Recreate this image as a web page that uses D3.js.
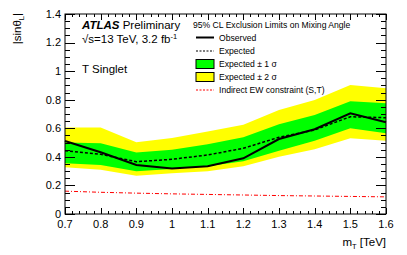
<!DOCTYPE html>
<html><head><meta charset="utf-8">
<script src="https://cdn.jsdelivr.net/npm/d3@7"></script>
<style>
html,body{margin:0;padding:0;background:#fff;}
svg{display:block;font-family:"Liberation Sans",Arial,sans-serif;}
</style></head>
<body>
<svg id="c" width="407" height="255"></svg>
<script>
const mass = [0.7, 0.8, 0.9, 1.0, 1.1, 1.2, 1.3, 1.4, 1.5, 1.6];
const observed = [0.511, 0.432, 0.343, 0.318, 0.335, 0.39, 0.525, 0.593, 0.705, 0.642];
const expected = [0.443, 0.418, 0.366, 0.383, 0.413, 0.46, 0.537, 0.588, 0.681, 0.674];
const sig1Up = [0.50, 0.495, 0.43, 0.45, 0.488, 0.538, 0.628, 0.693, 0.79, 0.775];
const sig1Dn = [0.355, 0.343, 0.30, 0.315, 0.335, 0.37, 0.443, 0.513, 0.60, 0.565];
const sig2Up = [0.605, 0.605, 0.503, 0.532, 0.578, 0.625, 0.728, 0.798, 0.903, 0.88];
const sig2Dn = [0.327, 0.31, 0.268, 0.285, 0.30, 0.335, 0.40, 0.453, 0.53, 0.513];
const ewConstraint = [0.160, 0.152, 0.146, 0.141, 0.137, 0.133, 0.129, 0.126, 0.123, 0.120];
const xTicks = [0.7, 0.8, 0.9, 1.0, 1.1, 1.2, 1.3, 1.4, 1.5, 1.6];
const xTickLabels = ["0.7","0.8","0.9","1","1.1","1.2","1.3","1.4","1.5","1.6"];
const yTicks = [0, 0.2, 0.4, 0.6, 0.8, 1.0, 1.2, 1.4];
const yTickLabels = ["0","0.2","0.4","0.6","0.8","1","1.2","1.4"];
const legendLabels = ["Observed","Expected","Expected \u00b1 1 \u03c3","Expected \u00b1 2 \u03c3","Indirect EW constraint (S,T)"];

const L = 65, R = 386, T = 14, B = 214;
const svg = d3.select("#c");
const x = d3.scaleLinear().domain([0.7, 1.6]).range([L, R]);
const y = d3.scaleLinear().domain([0, 1.4]).range([B, T]);

const idx = d3.range(mass.length);
const band = (up, dn) => d3.area().x(i => x(mass[i])).y0(i => y(dn[i])).y1(i => y(up[i]))(idx);
const line = (v) => d3.line().x(i => x(mass[i])).y(i => y(v[i]))(idx);

svg.append("path").attr("d", band(sig2Up, sig2Dn)).attr("fill", "#ffff00");
svg.append("path").attr("d", band(sig1Up, sig1Dn)).attr("fill", "#00ff00");
svg.append("path").attr("d", line(ewConstraint)).attr("fill", "none").attr("stroke", "#ff0000").attr("stroke-width", 1).attr("stroke-dasharray", "4,2,1,2");
svg.append("path").attr("d", line(expected)).attr("fill", "none").attr("stroke", "#000").attr("stroke-width", 1.5).attr("stroke-dasharray", "3,2");
svg.append("path").attr("d", line(observed)).attr("fill", "none").attr("stroke", "#000").attr("stroke-width", 2);

// frame
svg.append("rect").attr("x", L).attr("y", T).attr("width", R - L).attr("height", B - T).attr("fill", "none").attr("stroke", "#000").attr("stroke-width", 1);

// ticks (ROOT style, inside, on all sides)
const xMinor = d3.range(0.7, 1.6001, 0.02);
const yMinor = d3.range(0, 1.4001, 0.05);
const tk = svg.append("g").attr("stroke", "#000").attr("stroke-width", 1);
xMinor.forEach(v => {
  const major = Math.abs(Math.round(v * 10) - v * 10) < 1e-6;
  const len = major ? 6 : 3;
  const px = Math.round(x(v)) + 0.5;
  tk.append("line").attr("x1", px).attr("x2", px).attr("y1", B).attr("y2", B - len);
  tk.append("line").attr("x1", px).attr("x2", px).attr("y1", T).attr("y2", T + len);
});
yMinor.forEach(v => {
  const major = Math.abs(Math.round(v * 5) - v * 5) < 1e-6;
  const len = major ? 10 : 5;
  const py = Math.round(y(v)) + 0.5;
  tk.append("line").attr("x1", L).attr("x2", L + len).attr("y1", py).attr("y2", py);
  tk.append("line").attr("x1", R).attr("x2", R - len).attr("y1", py).attr("y2", py);
});

// tick labels
const fs = 11;
xTicks.forEach((v, i) => {
  svg.append("text").attr("x", x(v)).attr("y", 228).attr("text-anchor", "middle").attr("font-size", fs).text(xTickLabels[i]);
});
yTicks.forEach((v, i) => {
  svg.append("text").attr("x", 61).attr("y", y(v) + 3.9).attr("text-anchor", "end").attr("font-size", fs).text(yTickLabels[i]);
});

// axis titles
const tfs = 11.5;
const xt = svg.append("text").attr("x", R).attr("y", 246).attr("text-anchor", "end").attr("font-size", tfs);
xt.append("tspan").text("m");
xt.append("tspan").attr("font-size", 7.5).attr("dy", 2.5).text("T");
xt.append("tspan").attr("dy", -2.5).text(" [TeV]");

const yt = svg.append("text").attr("transform", "translate(21,13) rotate(-90)").attr("text-anchor", "end").attr("font-size", tfs);
yt.append("tspan").text("|sin\u03b8");
yt.append("tspan").attr("font-size", 7.5).attr("dy", 2.5).text("L");
yt.append("tspan").attr("dy", -2.5).text("|");

// ATLAS label
const at = svg.append("text").attr("x", 82).attr("y", 29).attr("font-size", tfs);
at.append("tspan").attr("font-weight", "bold").attr("font-style", "italic").text("ATLAS");
at.append("tspan").text(" Preliminary");
const en = svg.append("text").attr("x", 82).attr("y", 43).attr("font-size", tfs);
en.append("tspan").text("\u221as=13 TeV,  3.2 fb");
en.append("tspan").attr("font-size", 7.5).attr("dy", -4.5).text("-1");
svg.append("text").attr("x", 82).attr("y", 73).attr("font-size", tfs).text("T Singlet");

// legend
const lfs = 8.6;
svg.append("text").attr("x", 193).attr("y", 28).attr("font-size", lfs).text("95% CL Exclusion Limits on Mixing Angle");
const lx0 = 196, lx1 = 214, tx = 219;
const ly = [37.5, 51, 64, 77, 90];
svg.append("line").attr("x1", lx0).attr("x2", lx1).attr("y1", ly[0]).attr("y2", ly[0]).attr("stroke", "#000").attr("stroke-width", 2);
svg.append("line").attr("x1", lx0).attr("x2", lx1).attr("y1", ly[1]).attr("y2", ly[1]).attr("stroke", "#000").attr("stroke-width", 1.2).attr("stroke-dasharray", "2,1.5");
svg.append("rect").attr("x", lx0).attr("y", ly[2] - 4.5).attr("width", lx1 - lx0).attr("height", 9).attr("fill", "#00ff00").attr("stroke", "#000").attr("stroke-width", 1);
svg.append("rect").attr("x", lx0).attr("y", ly[3] - 4.5).attr("width", lx1 - lx0).attr("height", 9).attr("fill", "#ffff00").attr("stroke", "#000").attr("stroke-width", 1);
svg.append("line").attr("x1", lx0).attr("x2", lx1).attr("y1", ly[4]).attr("y2", ly[4]).attr("stroke", "#ff0000").attr("stroke-width", 1).attr("stroke-dasharray", "2,1.5");
legendLabels.forEach((t, i) => {
  svg.append("text").attr("x", tx).attr("y", ly[i] + 3).attr("font-size", lfs).text(t);
});
</script>
</body></html>
